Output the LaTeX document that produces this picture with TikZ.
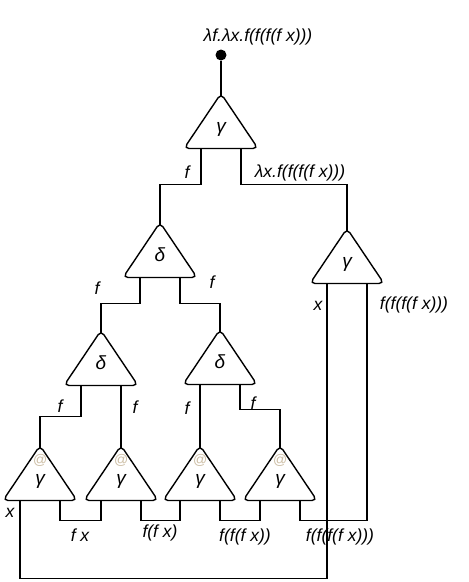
\documentclass[tikz,border=0pt]{standalone}
\usepackage{fontspec}
\setmainfont{Liberation Sans}
\usetikzlibrary{calc}

\definecolor{atcol}{RGB}{205,190,165}

\tikzset{
  wire/.style={line width=1.4pt},
  lbl/.style={font=\itshape\fontsize{17.5}{20}\selectfont, inner sep=0pt},
  symb/.style={font=\itshape\fontsize{19}{22}\selectfont, inner sep=0pt},
  atsign/.style={font=\itshape\fontsize{14}{16}\selectfont, text=atcol, inner sep=0pt},
  rootdot/.style={circle, fill=black, inner sep=0pt, minimum size=11pt},
  agent/.pic={
    \draw[wire, rounded corners=5pt] (0,27.5) -- (37,27.5) -- (0,-27.5) -- (-37,27.5) -- cycle;
    \coordinate (-top) at (0,-24.5);
    \coordinate (-l) at (-20,27.5);
    \coordinate (-r) at (20,27.5);
    \node[symb, anchor=base] (-sym) at (0,11) {#1};
  }
}

\begin{document}
\begin{tikzpicture}[x=1pt, y=-1pt]
\useasboundingbox (0,0) rectangle (469,582);

\node[rootdot] (root) at (221,55) {};
\node[lbl] (rootlbl) at (258,37) {λf.λx.f(f(f(f x)))};

\pic (g0) at (221,121) {agent=γ};
\pic (d0) at (160,250) {agent=δ};
\pic (gr) at (347,256) {agent=γ};
\pic (d1) at (101,358) {agent=δ};
\pic (d2) at (220,357) {agent=δ};
\pic (g1) at (40,473) {agent=γ};
\pic (g2) at (121,473) {agent=γ};
\pic (g3) at (200,473) {agent=γ};
\pic (g4) at (280,473) {agent=γ};

\node[atsign] (g1at) at (40,460) {@};
\node[atsign] (g2at) at (121,460) {@};
\node[atsign] (g3at) at (200,460) {@};
\node[atsign] (g4at) at (280,460) {@};

% wires
\draw[wire] (root) -- (g0-top);
\draw[wire] (g0-l) -- ++(0,36) -| (d0-top);
\draw[wire] (g0-r) -- ++(0,36) -| (gr-top);
\draw[wire] (d0-l) -- ++(0,26) -| (d1-top);
\draw[wire] (d0-r) -- ++(0,26) -| (d2-top);
\draw[wire] (d1-l) -- ++(0,31) -| (g1-top);
\draw[wire] (d1-r) -- (g2-top);
\draw[wire] (d2-l) -- (g3-top);
\draw[wire] (d2-r) -- ++(0,25) -| (g4-top);
\draw[wire] (g1-r) -- ++(0,20) -| (g2-l);
\draw[wire] (g2-r) -- ++(0,20) -| (g3-l);
\draw[wire] (g3-r) -- ++(0,20) -| (g4-l);
\draw[wire] (g4-r) -- ++(0,20) -| (gr-r);
\draw[wire] (g1-l) -- ++(0,78) -| (gr-l);

% labels
\node[lbl] (f0) at (187,172) {f};
\node[lbl] (lx) at (300,173) {λx.f(f(f(f x)))};
\node[lbl] (f1) at (97,288) {f};
\node[lbl] (f2) at (212,282) {f};
\node[lbl] (f3) at (60,406) {f};
\node[lbl] (f4) at (135,407) {f};
\node[lbl] (f5) at (187,408) {f};
\node[lbl] (f6) at (253,403) {f};
\node[lbl] (x1) at (10,513) {x};
\node[lbl] (x2) at (318,306) {x};
\node[lbl] (rr) at (414,305) {f(f(f(f x)))};
\node[lbl] (fx1) at (80,535) {f x};
\node[lbl] (fx2) at (160,533) {f(f x)};
\node[lbl] (fx3) at (245,537) {f(f(f x))};
\node[lbl] (fx4) at (340,537) {f(f(f(f x)))};
\end{tikzpicture}
\end{document}
